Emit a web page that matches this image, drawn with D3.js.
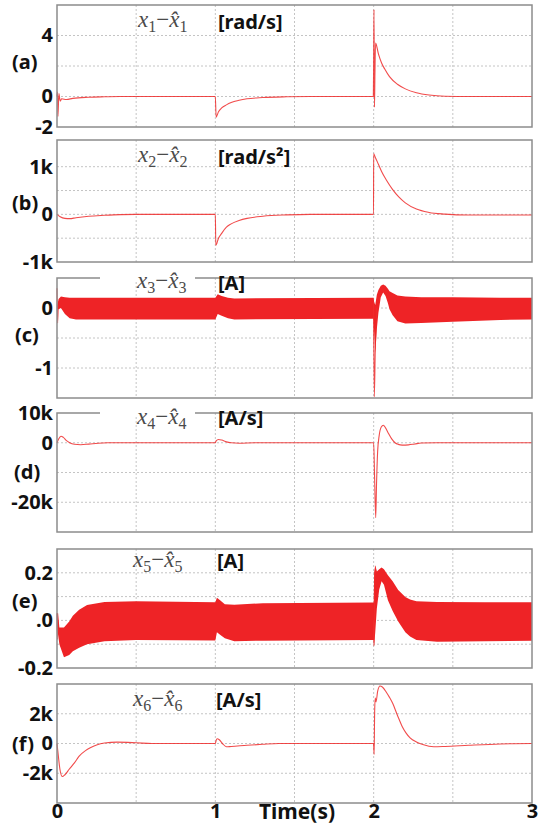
<!DOCTYPE html>
<html>
  <body style="margin:0;background:#fff">
    <style>
      svg { display: block; }
      .tick text { font-family: "Noto Sans", sans-serif; font-weight: bold; font-size: 20px; fill: #111; }
      .lbl { font-family: "Noto Sans", sans-serif; font-weight: bold; font-size: 20px; fill: #111; }
      .math { font-family: "Liberation Serif", serif; font-size: 23px; fill: #4a4a4a; }
    </style>
    <script src="https://d3js.org/d3.v7.min.js"></script>
    <script type="text/javascript">

      const width = 544;
      const height = 825;

      // panel meta
      const panelIds = ['(a)', '(b)', '(c)', '(d)', '(e)', '(f)'];
      const stateIndex = ['1', '2', '3', '4', '5', '6'];
      const units = ['[rad/s]', '[rad/s\u00B2]', '[A]', '[A/s]', '[A]', '[A/s]'];
      const yDomains = [[-2, 6], [-1000, 1560], [-1.5, 0.5], [-30000, 10000], [-0.2, 0.3], [-4000, 4000]];
      const yGrid = [[0, 2, 4], [-500, 0, 500, 1000], [-1, -0.5, 0], [-20000, -10000, 0], [-0.1, 0, 0.1, 0.2], [-2000, 0, 2000]];
      const yTickValues = [[4, 0, -2], [1000, 0, -1000], [0, -1], [10000, 0, -20000], [0.2, 0, -0.2], [2000, 0, -2000]];
      const yTickLabels = [['4', '0', '-2'], ['1k', '0', '-1k'], ['0', '-1'], ['10k', '0', '-20k'], ['0.2', '.0', '-0.2'], ['2k', '0', '-2k']];
      const timeTicks = [0, 1, 2, 3];
      const timeGrid = [0.5, 1, 1.5, 2, 2.5];

      // estimation errors [t, value]
      const x1Err = [[0, 0], [0.003, 0.3], [0.006, -1.3], [0.012, 0.2], [0.02, -0.3], [0.03, -0.15], [0.06, -0.2],
        [0.1, -0.12], [0.2, -0.05], [0.3, -0.02], [0.4, 0], [1.0, 0], [1.005, -1.35], [1.02, -1.0], [1.04, -0.75],
        [1.07, -0.55], [1.1, -0.4], [1.15, -0.25], [1.2, -0.15], [1.3, -0.07], [1.45, -0.02], [1.6, 0], [1.998, 0],
        [2.0, 2.5], [2.002, 5.7], [2.005, -0.7], [2.008, 1.5], [2.012, 3.5], [2.03, 2.8], [2.05, 2.2], [2.07, 1.8],
        [2.1, 1.3], [2.15, 0.8], [2.2, 0.5], [2.27, 0.25], [2.35, 0.1], [2.45, 0.02], [2.6, 0], [3, 0]];

      const x2Err = [[0, 0], [0.02, -50], [0.05, -85], [0.08, -90], [0.12, -70], [0.2, -40], [0.3, -20], [0.4, -5],
        [0.5, 0], [1.0, 0], [1.003, -650], [1.02, -500], [1.04, -400], [1.07, -270], [1.1, -200], [1.15, -130],
        [1.2, -85], [1.3, -40], [1.45, -12], [1.6, 0], [1.999, 0], [2.0, 1270], [2.01, 1200], [2.03, 1050],
        [2.05, 900], [2.08, 720], [2.12, 520], [2.16, 360], [2.2, 240], [2.27, 110], [2.35, 40], [2.45, 5],
        [2.6, -15], [3, -15]];

      // ripple envelope [t, upper, lower]
      const x3Band = [[0, 0.02, -0.02], [0.01, 0.15, -0.02], [0.025, 0.19, 0.0], [0.05, 0.18, -0.1], [0.08, 0.17, -0.17],
        [0.12, 0.17, -0.19], [0.3, 0.17, -0.19], [1.0, 0.17, -0.19], [1.015, 0.23, -0.1], [1.04, 0.2, -0.13],
        [1.08, 0.17, -0.17], [1.12, 0.16, -0.19], [2.0, 0.17, -0.18], [2.003, 0.1, -0.4], [2.01, 0.05, -0.75],
        [2.02, 0.22, -0.35], [2.03, 0.3, -0.08], [2.045, 0.37, 0.18], [2.06, 0.39, 0.26], [2.075, 0.37, 0.2],
        [2.09, 0.32, 0.08], [2.1, 0.28, -0.02], [2.12, 0.25, -0.12], [2.15, 0.21, -0.22], [2.2, 0.19, -0.26],
        [2.3, 0.18, -0.25], [2.5, 0.18, -0.23], [2.8, 0.17, -0.2], [3.0, 0.17, -0.19]];
      const x3Trace = [[0, 0.33], [0.004, -0.25], [0.008, 0.05], [0.01, null], [1.999, 0.1], [2.004, -1.48],
        [2.01, -0.7], [2.02, 0.0]];

      const x4Err = [[0, 0], [0.01, 1200], [0.025, 2200], [0.04, 1800], [0.06, 700], [0.08, 0], [0.11, -500],
        [0.15, -650], [0.2, -450], [0.26, -150], [0.32, 0], [1.0, 0], [1.005, 600], [1.02, 1100], [1.04, 900],
        [1.07, 300], [1.1, 0], [1.15, -150], [1.25, 0], [2.0, 0], [2.006, -12000], [2.013, -25200],
        [2.018, -14000], [2.025, -3000], [2.035, 2500], [2.048, 5300], [2.061, 5900], [2.075, 5000],
        [2.095, 3000], [2.115, 1200], [2.135, 0], [2.155, -550], [2.18, -800], [2.22, -700], [2.26, -400],
        [2.3, -100], [2.4, 0], [3, 0]];

      const x5Band = [[0, 0.03, -0.03], [0.007, 0.03, -0.06], [0.015, -0.03, -0.1], [0.044, -0.03, -0.155],
        [0.077, -0.005, -0.145], [0.1, 0.02, -0.13], [0.14, 0.045, -0.115], [0.19, 0.065, -0.1],
        [0.3, 0.077, -0.088], [0.5, 0.08, -0.082], [1.0, 0.076, -0.084], [1.01, 0.095, -0.05],
        [1.03, 0.085, -0.06], [1.06, 0.068, -0.075], [1.12, 0.066, -0.088], [1.3, 0.072, -0.085],
        [2.0, 0.075, -0.082], [2.003, 0.2, -0.105], [2.01, 0.228, -0.05], [2.02, 0.205, 0.05],
        [2.035, 0.215, 0.13], [2.05, 0.222, 0.165], [2.065, 0.215, 0.15], [2.09, 0.19, 0.085],
        [2.12, 0.165, 0.04], [2.155, 0.128, -0.005], [2.2, 0.098, -0.05], [2.23, 0.088, -0.068],
        [2.27, 0.08, -0.082], [2.4, 0.077, -0.09], [2.7, 0.076, -0.088], [3.0, 0.076, -0.085]];
      const x5Trace = [[0, 0.03], [0.003, -0.08], [0.006, 0.0], [0.01, null], [1.998, 0.0], [2.002, -0.107],
        [2.006, 0.1], [2.01, 0.228], [2.015, 0.2]];

      const x6Err = [[0, 0], [0.008, -800], [0.018, -1700], [0.033, -2220], [0.05, -2100], [0.077, -1730],
        [0.11, -1300], [0.14, -850], [0.18, -480], [0.21, -290], [0.25, -100], [0.3, 30], [0.38, 90], [0.5, 50],
        [0.6, 0], [1.0, 0], [1.005, 200], [1.012, 320], [1.025, 250], [1.045, 0], [1.07, -220], [1.1, -200],
        [1.2, -120], [1.3, -50], [1.4, 0], [1.999, 0], [2.003, -730], [2.006, 2000], [2.01, 3050], [2.015, 2800],
        [2.025, 3500], [2.04, 3870], [2.055, 3800], [2.08, 3450], [2.1, 3100], [2.12, 2700], [2.15, 1900],
        [2.18, 1150], [2.205, 700], [2.23, 380], [2.27, 100], [2.31, -70], [2.38, -220], [2.45, -200],
        [2.6, -120], [2.8, -30], [3, 0]];

      const lineData = [x1Err, x2Err, x3Trace, x4Err, x5Trace, x6Err];
      const bandData = [null, null, x3Band, null, x5Band, null];

      // layout
      const left = 57, right = 532;
      const panelTop = [5, 140, 278, 413, 549, 684];
      const panelBottom = [127, 262, 398, 532, 668, 803];
      const idY = [62, 203, 335, 472, 601, 744];
      const idX = [12, 12, 15, 14, 12, 12];
      const mathX = [138, 138, 137, 137, 133, 133];
      const mathY = [22, 157, 283, 419, 562, 701];
      const unitX = [218, 218, 218, 218, 217, 216];
      const unitY = [22, 157, 283, 418, 561, 700];
      const cutTop = [false, false, true, true, false, false];

      const svg = d3.select('body')
        .append('svg')
        .attr('width', width)
        .attr('height', height);

      const xScale = d3.scaleLinear().domain([0, 3]).range([left, right]);

      panelIds.forEach((id, i) => {
        const yScale = d3.scaleLinear().domain(yDomains[i]).range([panelBottom[i], panelTop[i]]);
        const g = svg.append('g');

        // grid
        g.selectAll('.vg').data(timeGrid).enter().append('line')
          .attr('x1', (d) => xScale(d)).attr('x2', (d) => xScale(d))
          .attr('y1', panelTop[i]).attr('y2', panelBottom[i])
          .attr('stroke', '#c4c4c4').attr('stroke-dasharray', '2,2');
        g.selectAll('.hg').data(yGrid[i]).enter().append('line')
          .attr('x1', left).attr('x2', right)
          .attr('y1', (d) => yScale(d)).attr('y2', (d) => yScale(d))
          .attr('stroke', '#c4c4c4').attr('stroke-dasharray', '2,2');

        // data
        if (bandData[i]) {
          const area = d3.area()
            .x((d) => xScale(d[0]))
            .y0((d) => yScale(d[2]))
            .y1((d) => yScale(d[1]));
          g.append('path').attr('d', area(bandData[i])).attr('fill', '#ee2326');
        }
        const line = d3.line()
          .defined((d) => d[1] !== null)
          .curve(d3.curveMonotoneX)
          .x((d) => xScale(d[0]))
          .y((d) => yScale(d[1]));
        g.append('path')
          .attr('d', line(lineData[i]))
          .attr('fill', 'none')
          .attr('stroke', '#ef2b2b')
          .attr('stroke-opacity', 0.85)
          .attr('stroke-width', 1.1);

        // frame
        g.append('rect')
          .attr('x', left).attr('y', panelTop[i])
          .attr('width', right - left).attr('height', panelBottom[i] - panelTop[i])
          .attr('fill', 'none').attr('stroke', '#8c8c8c').attr('stroke-width', 1.5);

        // y axis labels
        const axis = d3.axisLeft(yScale)
          .tickValues(yTickValues[i])
          .tickFormat((d, k) => yTickLabels[i][k])
          .tickSize(0)
          .tickPadding(3);
        const ag = g.append('g').attr('transform', `translate(${left - 1}, 0)`).call(axis);
        ag.select('.domain').remove();
        ag.selectAll('text').attr('font-family', null).attr('font-size', null);

        // state labels
        if (cutTop[i]) {
          g.append('rect')
            .attr('x', 100).attr('y', panelTop[i] - 2)
            .attr('width', 95).attr('height', 4)
            .attr('fill', '#fff');
        }
        const m = g.append('text').attr('class', 'math')
          .attr('x', mathX[i]).attr('y', mathY[i] + 5);
        m.append('tspan').attr('font-style', 'italic').text('x');
        m.append('tspan').attr('font-size', '16px').attr('dy', 5).text(stateIndex[i]);
        m.append('tspan').attr('dy', -5).text('\u2212');
        m.append('tspan').attr('font-style', 'italic').text('x\u0302');
        m.append('tspan').attr('font-size', '16px').attr('dy', 5).text(stateIndex[i]);

        g.append('text').attr('class', 'lbl')
          .attr('x', unitX[i]).attr('y', unitY[i] + 7)
          .text(units[i]);

        g.append('text').attr('class', 'lbl')
          .attr('x', idX[i]).attr('y', idY[i] + 7)
          .text(id);
      });

      // time axis
      const xAxis = d3.axisBottom(xScale)
        .tickValues(timeTicks)
        .tickFormat(d3.format('d'))
        .tickSize(0)
        .tickPadding(1);
      const xg = svg.append('g')
        .attr('transform', `translate(0, ${panelBottom[5]})`)
        .call(xAxis);
      xg.select('.domain').remove();
      xg.selectAll('text').attr('font-family', null).attr('font-size', null);

      svg.append('text').attr('class', 'lbl')
        .attr('x', 297).attr('y', 819)
        .attr('text-anchor', 'middle')
        .style('font-size', '21px')
        .text('Time(s)');

    </script>
  </body>
</html>
